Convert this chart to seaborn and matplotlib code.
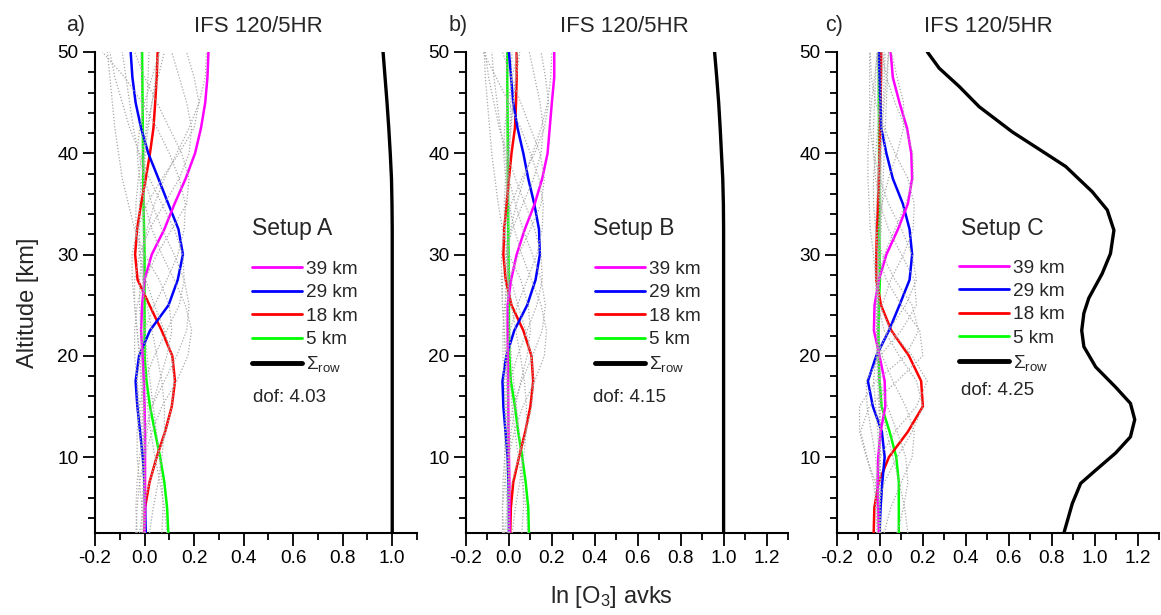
import matplotlib
matplotlib.use("Agg")
import matplotlib.pyplot as plt
from matplotlib.lines import Line2D
from matplotlib.ticker import MultipleLocator, FormatStrFormatter
import seaborn as sns

# ---------------- data ----------------
alt = [2.5, 5, 7.5, 10, 12.5, 15, 17.5, 20, 22.5, 25, 27.5, 30, 32.5, 35, 37.5, 40, 42.5, 45, 47.5, 50]

# Panel a (Setup A)
mag_a = [0.0, 0.002, 0.002, 0.002, 0.002, 0.0, -0.003, -0.008, -0.014, -0.01, 0.0, 0.029, 0.08, 0.121, 0.166, 0.204, 0.228, 0.245, 0.254, 0.258]
blue_a = [0.005, 0.002, 0.0, -0.007, -0.018, -0.029, -0.036, -0.022, 0.022, 0.097, 0.134, 0.155, 0.137, 0.096, 0.056, 0.015, -0.014, -0.036, -0.049, -0.056]
red_a = [0.0, 0.002, 0.02, 0.049, 0.083, 0.11, 0.123, 0.112, 0.069, 0.02, -0.028, -0.038, -0.03, -0.014, 0.005, 0.022, 0.036, 0.043, 0.049, 0.053]
green_a = [0.096, 0.091, 0.08, 0.063, 0.042, 0.022, 0.008, 0.0, 0.0, 0.0, 0.0, 0.0, -0.002, -0.004, -0.005, -0.006, -0.007, -0.008, -0.009, -0.01]
sigma_a = [1.0, 1.0, 1.0, 1.0, 1.0, 1.0, 1.0, 1.0, 1.0, 1.0, 1.0, 1.0, 1.0, 0.999, 0.997, 0.992, 0.986, 0.979, 0.971, 0.963]

# Panel b (Setup B)
mag_b = [0.003, 0.003, 0.002, 0.0, -0.002, -0.003, -0.004, -0.005, -0.006, -0.006, 0.01, 0.036, 0.074, 0.12, 0.155, 0.18, 0.19, 0.2, 0.211, 0.211]
blue_b = [0.0, 0.0, -0.002, -0.006, -0.016, -0.026, -0.03, -0.012, 0.025, 0.085, 0.124, 0.144, 0.14, 0.118, 0.09, 0.067, 0.04, 0.02, 0.01, 0.0]
red_b = [0.006, 0.009, 0.02, 0.047, 0.076, 0.1, 0.113, 0.105, 0.067, 0.012, -0.015, -0.026, -0.022, -0.011, 0.0, 0.012, 0.028, 0.033, 0.036, 0.036]
green_b = [0.093, 0.09, 0.078, 0.062, 0.043, 0.028, 0.009, 0.002, 0.0, 0.0, -0.001, -0.002, -0.003, -0.004, -0.005, -0.005, -0.006, -0.007, -0.008, -0.008]
sigma_b = [1.0, 1.0, 1.0, 1.0, 1.0, 1.0, 1.0, 1.0, 1.0, 1.0, 1.0, 1.0, 1.0, 0.999, 0.996, 0.99, 0.984, 0.977, 0.968, 0.958]

# Panel c (Setup C)
mag_c = [-0.005, -0.009, -0.011, -0.008, 0.003, 0.025, 0.022, -0.002, -0.028, -0.025, -0.005, 0.03, 0.084, 0.13, 0.15, 0.146, 0.126, 0.091, 0.06, 0.05]
blue_c = [-0.002, 0.003, 0.011, 0.022, 0.009, -0.033, -0.056, -0.017, 0.042, 0.091, 0.138, 0.15, 0.138, 0.107, 0.06, 0.03, 0.006, 0.002, -0.002, -0.005]
red_c = [-0.029, -0.026, -0.006, 0.042, 0.13, 0.2, 0.192, 0.135, 0.053, 0.005, -0.017, -0.017, -0.014, -0.009, -0.005, -0.002, 0.0, 0.003, 0.005, 0.006]
green_c = [0.088, 0.088, 0.088, 0.076, 0.045, 0.008, -0.002, -0.006, -0.007, -0.005, 0.0, -0.002, -0.003, -0.003, -0.004, -0.004, -0.004, -0.005, -0.005, -0.005]
alt_sigma_c = [2.5, 5.4, 7.4, 8.7, 10.4, 12.0, 13.7, 15.3, 16.9, 18.9, 20.9, 22.5, 24.2, 25.7, 28.1, 30.1, 32.4, 34.4, 36.2, 38.7, 40.2, 42.1, 44.6, 46.6, 48.4, 50]
sigma_c = [0.857, 0.896, 0.935, 1.005, 1.098, 1.167, 1.187, 1.167, 1.098, 1.005, 0.95, 0.94, 0.95, 0.973, 1.035, 1.074, 1.09, 1.059, 0.989, 0.865, 0.756, 0.617, 0.462, 0.369, 0.276, 0.221]

# remaining kernel rows (gray dotted), panel a
gray_a = [
    [0.09, 0.08, 0.062, 0.042, 0.025, 0.012, 0.004, 0.0, -0.003, -0.004, -0.003, -0.002, -0.002, -0.003, -0.004, -0.006, -0.008, -0.01, -0.012, -0.014],
    [0.07, 0.075, 0.07, 0.06, 0.048, 0.035, 0.022, 0.01, 0.002, -0.004, -0.006, -0.006, -0.004, -0.002, 0.0, 0.003, 0.006, 0.01, 0.014, 0.018],
    [0.02, 0.035, 0.055, 0.07, 0.08, 0.08, 0.07, 0.05, 0.03, 0.01, -0.008, -0.018, -0.022, -0.02, -0.012, 0.0, 0.015, 0.03, 0.045, 0.06],
    [-0.02, -0.005, 0.02, 0.05, 0.085, 0.11, 0.12, 0.11, 0.08, 0.04, 0.005, -0.02, -0.035, -0.035, -0.025, -0.01, 0.01, 0.03, 0.055, 0.08],
    [-0.035, -0.03, -0.02, 0.0, 0.03, 0.07, 0.13, 0.175, 0.19, 0.165, 0.12, 0.07, 0.03, 0.0, -0.02, -0.03, -0.02, 0.0, 0.03, 0.06],
    [-0.03, -0.035, -0.03, -0.02, 0.0, 0.03, 0.08, 0.13, 0.17, 0.18, 0.16, 0.12, 0.07, 0.03, 0.0, -0.025, -0.045, -0.06, -0.075, -0.09],
    [0.0, -0.01, -0.02, -0.03, -0.03, -0.02, 0.0, 0.04, 0.09, 0.14, 0.16, 0.155, 0.12, 0.07, 0.02, -0.02, -0.06, -0.09, -0.12, -0.14],
    [0.0, 0.0, -0.005, -0.01, -0.02, -0.03, -0.03, -0.02, 0.0, 0.04, 0.09, 0.135, 0.16, 0.165, 0.14, 0.1, 0.05, -0.01, -0.08, -0.17],
    [0.0, 0.0, 0.0, -0.005, -0.01, -0.02, -0.03, -0.04, -0.04, -0.03, 0.0, 0.05, 0.11, 0.17, 0.18, 0.15, 0.1, 0.05, 0.0, -0.04],
    [0.0, 0.0, 0.0, 0.0, -0.005, -0.01, -0.015, -0.02, -0.03, -0.04, -0.05, -0.05, -0.03, 0.01, 0.07, 0.14, 0.2, 0.22, 0.2, 0.17],
    [0.0, 0.0, 0.0, 0.0, 0.0, 0.0, -0.005, -0.01, -0.015, -0.02, -0.02, -0.01, 0.01, 0.04, 0.08, 0.13, 0.18, 0.22, 0.245, 0.25],
    [-0.01, -0.01, -0.005, 0.0, 0.01, 0.03, 0.06, 0.09, 0.11, 0.1, 0.06, 0.0, -0.04, -0.065, -0.09, -0.105, -0.12, -0.13, -0.14, -0.15],
    [0.0, 0.0, 0.0, 0.0, 0.0, -0.005, -0.01, -0.02, -0.03, -0.04, -0.04, -0.02, 0.02, 0.08, 0.14, 0.18, 0.19, 0.17, 0.14, 0.11],
]

gray_b = [
    [0.088, 0.08, 0.062, 0.044, 0.028, 0.015, 0.006, 0.001, -0.002, -0.003, -0.003, -0.003, -0.003, -0.004, -0.005, -0.006, -0.007, -0.008, -0.01, -0.011],
    [0.06, 0.068, 0.066, 0.058, 0.047, 0.035, 0.022, 0.011, 0.003, -0.002, -0.004, -0.004, -0.003, -0.001, 0.001, 0.003, 0.005, 0.008, 0.011, 0.014],
    [0.015, 0.03, 0.05, 0.068, 0.08, 0.082, 0.072, 0.053, 0.032, 0.012, -0.004, -0.012, -0.015, -0.014, -0.008, 0.0, 0.01, 0.02, 0.03, 0.04],
    [-0.02, -0.008, 0.015, 0.045, 0.08, 0.105, 0.115, 0.105, 0.078, 0.042, 0.01, -0.01, -0.02, -0.022, -0.016, -0.006, 0.006, 0.02, 0.035, 0.05],
    [-0.03, -0.03, -0.02, -0.002, 0.025, 0.065, 0.12, 0.165, 0.175, 0.15, 0.105, 0.06, 0.025, 0.0, -0.015, -0.025, -0.02, -0.005, 0.015, 0.04],
    [-0.025, -0.03, -0.028, -0.02, -0.005, 0.02, 0.06, 0.11, 0.155, 0.17, 0.15, 0.11, 0.065, 0.03, 0.0, -0.02, -0.04, -0.055, -0.07, -0.08],
    [0.0, -0.008, -0.015, -0.02, -0.02, -0.012, 0.005, 0.04, 0.085, 0.13, 0.155, 0.15, 0.12, 0.075, 0.03, -0.01, -0.045, -0.07, -0.095, -0.11],
    [0.0, 0.0, -0.003, -0.008, -0.015, -0.02, -0.02, -0.012, 0.005, 0.04, 0.085, 0.13, 0.155, 0.16, 0.14, 0.1, 0.055, 0.0, -0.06, -0.12],
    [0.0, 0.0, 0.0, -0.004, -0.008, -0.015, -0.022, -0.028, -0.028, -0.02, 0.0, 0.045, 0.1, 0.15, 0.165, 0.145, 0.1, 0.055, 0.01, -0.03],
    [0.0, 0.0, 0.0, 0.0, -0.004, -0.008, -0.012, -0.016, -0.022, -0.03, -0.035, -0.035, -0.02, 0.01, 0.06, 0.12, 0.165, 0.185, 0.17, 0.15],
    [0.0, 0.0, 0.0, 0.0, 0.0, 0.0, -0.004, -0.008, -0.012, -0.016, -0.016, -0.008, 0.008, 0.035, 0.07, 0.11, 0.15, 0.18, 0.195, 0.2],
    [-0.008, -0.008, -0.004, 0.0, 0.01, 0.03, 0.055, 0.085, 0.1, 0.09, 0.055, 0.0, -0.03, -0.05, -0.065, -0.08, -0.09, -0.1, -0.11, -0.115],
    [0.0, 0.0, 0.0, 0.0, 0.0, -0.004, -0.008, -0.015, -0.022, -0.03, -0.03, -0.015, 0.015, 0.065, 0.115, 0.15, 0.16, 0.145, 0.12, 0.095],
]

gray_c = [
    [0.13, 0.115, 0.09, 0.06, 0.03, 0.01, -0.002, -0.008, -0.008, -0.005, -0.002, -0.002, -0.003, -0.003, -0.004, -0.004, -0.004, -0.005, -0.005, -0.005],
    [0.08, 0.11, 0.13, 0.12, 0.08, 0.035, 0.0, -0.015, -0.015, -0.008, 0.0, 0.0, -0.002, -0.003, -0.004, -0.005, -0.006, -0.008, -0.01, -0.012],
    [0.02, 0.05, 0.1, 0.15, 0.16, 0.12, 0.06, 0.01, -0.015, -0.017, -0.01, -0.005, 0.0, 0.0, 0.002, 0.005, 0.01, 0.015, 0.02, 0.025],
    [-0.015, -0.01, 0.02, 0.08, 0.15, 0.2, 0.17, 0.09, 0.02, -0.01, -0.01, 0.0, 0.005, 0.01, 0.015, 0.02, 0.025, 0.03, 0.035, 0.04],
    [0.0, -0.015, -0.03, -0.06, -0.09, -0.05, 0.08, 0.2, 0.185, 0.1, 0.03, -0.01, -0.02, -0.015, -0.01, 0.0, 0.01, 0.02, 0.03, 0.04],
    [0.005, 0.0, -0.02, -0.064, -0.095, -0.095, -0.02, 0.12, 0.18, 0.15, 0.07, 0.01, -0.02, -0.03, -0.03, -0.02, -0.01, 0.0, 0.01, 0.02],
    [0.0, 0.0, -0.01, -0.02, -0.04, -0.06, -0.064, 0.0, 0.1, 0.17, 0.16, 0.1, 0.04, 0.0, -0.02, -0.03, -0.03, -0.025, -0.02, -0.015],
    [0.0, 0.0, 0.0, -0.005, -0.01, -0.02, -0.03, -0.017, 0.04, 0.12, 0.17, 0.15, 0.1, 0.04, 0.0, -0.03, -0.045, -0.048, -0.048, -0.048],
    [0.0, 0.0, 0.0, 0.0, 0.0, -0.005, -0.01, -0.015, -0.01, 0.01, 0.05, 0.11, 0.155, 0.16, 0.13, 0.07, 0.02, -0.02, -0.04, -0.045],
    [0.0, 0.0, 0.0, 0.0, 0.0, 0.0, -0.005, -0.01, -0.015, -0.015, -0.005, 0.02, 0.07, 0.12, 0.155, 0.153, 0.12, 0.07, 0.03, 0.01],
    [0.0, 0.0, 0.0, 0.0, 0.0, 0.0, 0.0, -0.005, -0.01, -0.015, -0.02, -0.02, -0.01, 0.01, 0.04, 0.08, 0.11, 0.11, 0.08, 0.053],
    [0.0, 0.0, 0.0, 0.0, 0.0, 0.0, 0.0, 0.0, -0.005, -0.01, -0.02, -0.03, -0.045, -0.05, -0.056, -0.056, -0.05, -0.04, -0.025, -0.01],
    [-0.01, -0.02, -0.02, 0.0, 0.07, 0.17, 0.22, 0.15, 0.05, 0.0, -0.015, -0.01, 0.0, 0.005, 0.005, 0.005, 0.005, 0.005, 0.005, 0.005],
]

legend_labels = ["39 km", "29 km", "18 km", "5 km", r"$\Sigma_{\mathrm{row}}$"]
setups = ["Setup A", "Setup B", "Setup C"]
dofs = ["dof: 4.03", "dof: 4.15", "dof: 4.25"]
panel_tags = ["a)", "b)", "c)"]
title_text = "IFS 120/5HR"

# ---------------- style ----------------
sns.set_style("ticks")
plt.rcParams["font.family"] = ["Liberation Sans", "DejaVu Sans"]
plt.rcParams["mathtext.fontset"] = "custom"
plt.rcParams["mathtext.rm"] = "Liberation Sans"
plt.rcParams["mathtext.it"] = "Liberation Sans:italic"
plt.rcParams["mathtext.bf"] = "Liberation Sans:bold"
plt.rcParams["axes.unicode_minus"] = False

C_MAG, C_BLUE, C_RED, C_GREEN = "#ff00ff", "#0000ff", "#ff0000", "#00ff00"

W, H = 1161, 615
fig = plt.figure(figsize=(W / 100, H / 100), dpi=100)

ax_left_px = [95, 466, 837]
ax_w_px = 322
ax_top_px, ax_bot_px = 52, 533
xlims = [(-0.2, 1.1), (-0.2, 1.3), (-0.2, 1.3)]

panels = [
    (mag_a, blue_a, red_a, green_a, alt, sigma_a, gray_a),
    (mag_b, blue_b, red_b, green_b, alt, sigma_b, gray_b),
    (mag_c, blue_c, red_c, green_c, alt_sigma_c, sigma_c, gray_c),
]

leg_x = [0.4876, 0.40, 0.379]
leg_y = [0.566, 0.566, 0.569]
setup_x = [0.4876, 0.394, 0.385]
dof_xy = [(0.49, 0.281), (0.394, 0.281), (0.385, 0.297)]
title_x = [258, 624, 988]
tag_x = [76, 458, 834]

for i, (mg, bl, rd, gr, salt, sg, grays) in enumerate(panels):
    ax = fig.add_axes([ax_left_px[i] / W, 1 - ax_bot_px / H, ax_w_px / W, (ax_bot_px - ax_top_px) / H])

    common = dict(ax=ax, orient="y", estimator=None, sort=False, legend=False)
    sns.lineplot(x=sg, y=salt, color="black", linewidth=2.4, zorder=3, **common)
    sns.lineplot(x=gr, y=alt, color=C_GREEN, linewidth=1.8, zorder=3, **common)
    sns.lineplot(x=rd, y=alt, color=C_RED, linewidth=1.8, zorder=3, **common)
    sns.lineplot(x=bl, y=alt, color=C_BLUE, linewidth=1.8, zorder=3, **common)
    sns.lineplot(x=mg, y=alt, color=C_MAG, linewidth=1.8, zorder=3, **common)
    for row in grays:
        sns.lineplot(x=row, y=alt, color="#a8a8a8", linewidth=0.9,
                     linestyle=(0, (1, 1.5)), zorder=4, **common)

    ax.set_xlim(*xlims[i])
    ax.set_ylim(2.5, 50)
    ax.xaxis.set_major_locator(MultipleLocator(0.2))
    ax.xaxis.set_minor_locator(MultipleLocator(0.1))
    ax.xaxis.set_major_formatter(FormatStrFormatter("%.1f"))
    ax.yaxis.set_major_locator(MultipleLocator(10))
    ax.yaxis.set_minor_locator(MultipleLocator(2))
    ax.set_xlabel("")
    ax.set_ylabel("")
    for s in ["top", "right"]:
        ax.spines[s].set_visible(False)
    for s in ["left", "bottom"]:
        ax.spines[s].set_linewidth(1.5)
        ax.spines[s].set_color("black")
    ax.tick_params(which="major", direction="out", length=9, width=1.3,
                   labelsize=13.7, colors="black", pad=3)
    ax.tick_params(which="minor", direction="out", length=5, width=1.3, colors="black")

    handles = [
        Line2D([], [], color=C_MAG, lw=2.0),
        Line2D([], [], color=C_BLUE, lw=2.0),
        Line2D([], [], color=C_RED, lw=2.0),
        Line2D([], [], color=C_GREEN, lw=2.0),
        Line2D([], [], color="black", lw=3.5),
    ]
    ax.legend(handles, legend_labels, loc="upper left", bbox_to_anchor=(leg_x[i], leg_y[i]),
              frameon=False, borderpad=0, borderaxespad=0, handlelength=2.63,
              handletextpad=0.2, labelspacing=0.32, fontsize=13.7)
    ax.text(setup_x[i], 0.634, setups[i], transform=ax.transAxes, fontsize=16.5,
            ha="left", va="center")
    ax.text(dof_xy[i][0], dof_xy[i][1], dofs[i], transform=ax.transAxes, fontsize=13.5,
            ha="left", va="center")

    fig.text(title_x[i] / W, 1 - 27 / H, title_text, fontsize=16, ha="center", va="center")
    fig.text(tag_x[i] / W, 1 - 26 / H, panel_tags[i], fontsize=15.5, ha="center", va="center")

fig.text(28 / W, 1 - 303 / H, "Altitude [km]", rotation=90, fontsize=17, ha="center", va="center")
fig.text(611 / W, 1 - 597 / H, r"ln [O$_3$] avks", fontsize=17, ha="center", va="center")

fig.savefig("out.png", dpi=100)
